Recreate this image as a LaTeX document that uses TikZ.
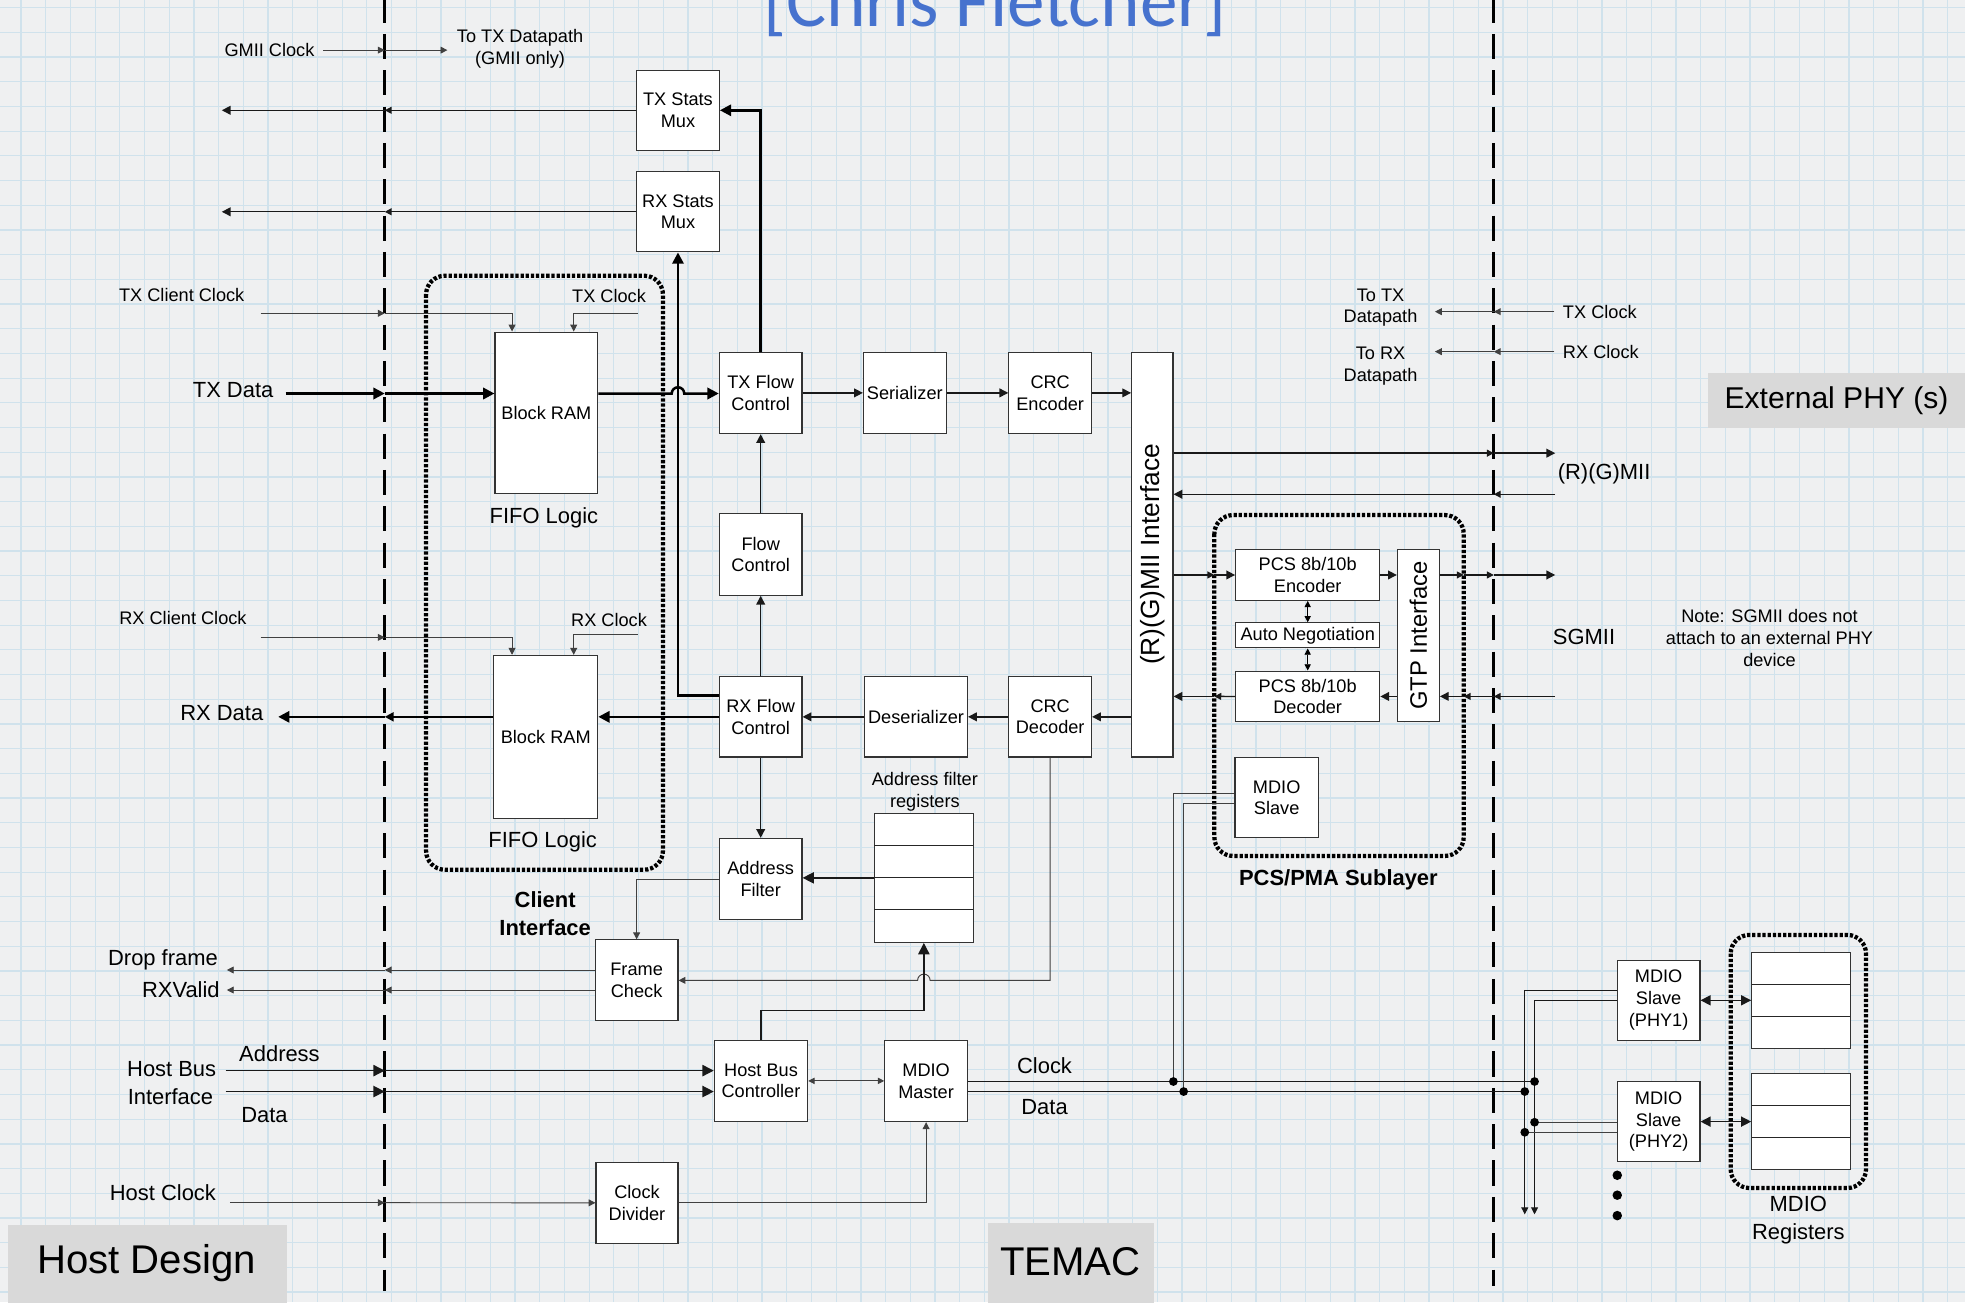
\documentclass[tikz,border=0pt]{standalone}
\usepackage{fontspec}
\setmainfont{Liberation Sans}
\newfontfamily\titlefont{Carlito}
\usetikzlibrary{arrows.meta}
\newcommand{\fsA}{\fontsize{14.5}{17.4}\selectfont}
\newcommand{\fsB}{\fontsize{17.5}{22}\selectfont}
\newcommand{\fsC}{\fontsize{32}{38}\selectfont}
\newcommand{\fsD}{\fontsize{24}{28}\selectfont}
\newcommand{\fsR}{\fontsize{21}{25}\selectfont}
\newcommand{\fsG}{\fontsize{19}{23}\selectfont}
\newcommand{\fsT}{\titlefont\fontsize{60}{72}\selectfont}
\definecolor{bgc}{RGB}{239,240,241}
\definecolor{gridc}{RGB}{208,226,236}
\definecolor{titleblue}{RGB}{70,114,206}
\definecolor{labelgray}{RGB}{217,217,217}
\begin{document}
\begin{tikzpicture}[x=1pt,y=-1pt,
 blk/.style={draw=black!80,fill=white,line width=0.9pt,inner sep=0pt,align=center,font=\fsA},
 lbl/.style={inner sep=0pt,align=center,font=\fsA},
 lblB/.style={inner sep=0pt,align=center,font=\fsB},
 thn/.style={line width=0.75pt,draw=black!75},
 med/.style={line width=1.1pt,draw=black!90},
 thk/.style={line width=2pt,draw=black},
 sar/.style={-{Triangle[length=5.5pt,width=5.5pt]}},
 ar/.style={-{Triangle[length=7pt,width=7pt]}},
 bar/.style={-{Triangle[length=9pt,width=9pt]}},
 dsar/.style={{Triangle[length=5pt,width=5pt]}-{Triangle[length=5pt,width=5pt]}},
 dbar/.style={{Triangle[length=8pt,width=8pt]}-{Triangle[length=8pt,width=8pt]}},
 bnd/.style={line width=2.6pt,dash pattern=on 20pt off 9pt},
 dotbox/.style={line width=3.4pt,dash pattern=on 2.6pt off 1.5pt,rounded corners=15pt},
 gridl/.style={line width=1pt,draw=gridc},
]
\useasboundingbox (0,0) rectangle (1568,1039);
\clip (0,0) rectangle (1568,1039);
% background and grid
\fill[bgc] (0,0) rectangle (1568,1039);
\foreach \i in {0,...,79}{\pgfmathsetmacro\gx{16.8+\i*19.71}\draw[gridl] (\gx,0) -- (\gx,1039);}
\foreach \j in {0,...,52}{\pgfmathsetmacro\gy{6.1+\j*19.71}\draw[gridl] (0,\gy) -- (1568,\gy);}

% title
\node[font=\fsT,text=titleblue,anchor=base,inner sep=0pt] (title) at (794,21.5) {[Chris Fletcher]};

% boundaries
\draw[bnd] (307,-2) -- (307,1030);
\draw[bnd] (1192,-2) -- (1192,1026);

% gray region labels
\fill[labelgray] (6.4,977.5) rectangle (229,1045);
\node[font=\fsC,inner sep=0pt] (hostd) at (117,1008) {Host Design};
\fill[labelgray] (788.4,975.6) rectangle (920.5,1045);
\node[font=\fsC,inner sep=0pt] (temac) at (854,1007) {TEMAC};
\fill[labelgray] (1363.2,297.9) rectangle (1570,341.8);
\node[font=\fsD,inner sep=0pt] (extphy) at (1465.5,319.5) {External PHY (s)};

% dotted groups
\draw[dotbox] (340,220) rectangle (529,694);
\draw[dotbox] (969,411) rectangle (1168,683);
\draw[dotbox] (1381,746) rectangle (1489,948);

% blocks
\node[blk,minimum width=66pt,minimum height=64pt] (txstats) at (541,88) {TX Stats\\Mux};
\node[blk,minimum width=66pt,minimum height=64pt] (rxstats) at (541,169) {RX Stats\\Mux};
\node[blk,minimum width=82pt,minimum height=129pt] (bramtx) at (436,329.5) {Block RAM};
\node[blk,minimum width=83pt,minimum height=130pt] (bramrx) at (435.5,588) {Block RAM};
\node[blk,minimum width=66pt,minimum height=65pt] (txflow) at (607,313.5) {TX Flow\\Control};
\node[blk,minimum width=66pt,minimum height=65pt] (ser) at (722,313.5) {Serializer};
\node[blk,minimum width=66pt,minimum height=65pt] (crcenc) at (838,313.5) {CRC\\Encoder};
\node[blk,minimum width=33pt,minimum height=323pt] (rgmii) at (919.5,442.5) {};
\node[rotate=90,font=\fsR,inner sep=0pt] (rgmiit) at (rgmii.center) {(R)(G)MII Interface};
\node[blk,minimum width=66pt,minimum height=65pt] (flowc) at (607,442.5) {Flow\\Control};
\node[blk,minimum width=66pt,minimum height=64pt] (rxflow) at (607,572) {RX Flow\\Control};
\node[blk,minimum width=82pt,minimum height=64pt] (deser) at (731,572) {Deserializer};
\node[blk,minimum width=66pt,minimum height=64pt] (crcdec) at (838,572) {CRC\\Decoder};
\node[blk,minimum width=66pt,minimum height=65pt] (addrf) at (607,701.5) {Address\\Filter};
\node[blk,minimum width=79pt,minimum height=103pt] (regs) at (737.2,700.5) {};
\draw[thn,draw=black!85] (697.7,674.8) -- (776.7,674.8) (697.7,700.3) -- (776.7,700.3) (697.7,726.1) -- (776.7,726.1);
\node[blk,minimum width=66pt,minimum height=64pt] (frame) at (508,782) {Frame\\Check};
\node[blk,minimum width=74.5pt,minimum height=65pt] (hbc) at (607.25,862.5) {Host Bus\\Controller};
\node[blk,minimum width=66pt,minimum height=65pt] (mdiom) at (739,862.5) {MDIO\\Master};
\node[blk,minimum width=65.4pt,minimum height=64.5pt] (clkdiv) at (508.3,959.8) {Clock\\Divider};
\node[blk,minimum width=115pt,minimum height=40.5pt] (pcsenc) at (1043.5,458.8) {PCS 8b/10b\\Encoder};
\node[blk,minimum width=115pt,minimum height=20pt] (autoneg) at (1043.5,507) {Auto Negotiation};
\node[blk,minimum width=115pt,minimum height=40.5pt] (pcsdec) at (1043.5,555.75) {PCS 8b/10b\\Decoder};
\node[blk,minimum width=33.5pt,minimum height=137.5pt] (gtp) at (1131.8,507.25) {};
\node[rotate=90,font=\fsG,inner sep=0pt] (gtpt) at (gtp.center) {GTP Interface};
\node[blk,minimum width=66.5pt,minimum height=64pt] (mdios) at (1018.75,636.5) {MDIO\\Slave};
\node[blk,minimum width=66pt,minimum height=64pt] (phy1) at (1323.5,798.2) {MDIO\\Slave\\(PHY1)};
\node[blk,minimum width=66pt,minimum height=64pt] (phy2) at (1323.5,895) {MDIO\\Slave\\(PHY2)};
\node[blk,minimum width=78.8pt,minimum height=77pt] (reg1) at (1437.2,798.3) {};
\draw[thn,draw=black!85] (1397.8,785.3) -- (1476.6,785.3) (1397.8,811) -- (1476.6,811);
\node[blk,minimum width=78.8pt,minimum height=77pt] (reg2) at (1437.2,895) {};
\draw[thn,draw=black!85] (1397.8,882) -- (1476.6,882) (1397.8,907.8) -- (1476.6,907.8);

% labels
\node[lbl] (lgmii) at (215,40) {GMII Clock};
\node[lbl] (ltotx) at (415,39) {To TX Datapath\\(GMII only)};
\node[lbl] (ltcc) at (145,235.5) {TX Client Clock};
\node[lbl] (ltck) at (486,236) {TX Clock};
\node[lblB] (ltxd) at (186,311) {TX Data};
\node[lblB] (lfifo1) at (434,413) {FIFO Logic};
\node[lbl] (lrcc) at (146,493.5) {RX Client Clock};
\node[lbl] (lrck) at (486,494.5) {RX Clock};
\node[lblB] (lrxd) at (177,569) {RX Data};
\node[lblB] (lfifo2) at (433,672) {FIFO Logic};
\node[lblB,font=\fsB\bfseries] (lclient) at (435,729) {Client\\Interface};
\node[lbl] (lafr) at (738,631.5) {Address filter\\registers};
\node[lblB,anchor=east] (ldrop) at (174,766) {Drop frame};
\node[lblB,anchor=east] (lrxv) at (175.5,790) {RXValid};
\node[lblB] (lhbus) at (137,853) {Host Bus};
\node[lblB] (lhint) at (136,875) {Interface};
\node[lblB] (laddr) at (223,841) {Address};
\node[lblB] (ldata) at (211,890) {Data};
\node[lblB] (lhclk) at (130,952) {Host Clock};
\node[lblB] (lclk) at (833.5,850.5) {Clock};
\node[lblB] (lmdata) at (833.5,883) {Data};
\node[lblB,font=\fsB\bfseries] (lpcs) at (1068,702) {PCS/PMA Sublayer};
\node[lbl] (ltotxr) at (1101.6,245.5) {To TX\\Datapath};
\node[lbl] (ltorx) at (1101.6,292) {To RX\\Datapath};
\node[lbl,anchor=west] (ltckr) at (1247,248.7) {TX Clock};
\node[lbl,anchor=west] (lrckr) at (1247,280.6) {RX Clock};
\node[lblB] (lrgmii) at (1280,378) {(R)(G)MII};
\node[lblB] (lsgmii) at (1264,508) {SGMII};
\node[lbl] (lnote) at (1412,509) {Note: SGMII does not\\attach to an external PHY\\device};
\node[lblB] (lmreg) at (1435,973.5) {MDIO\\Registers};

% GMII clock
\coordinate (gmL) at (258,40); \coordinate (gmB) at (307,40); \coordinate (gmR) at (357,40);
\draw[thn,sar] (gmL) -- (gmB); \draw[thn,sar] (gmB) -- (gmR);

% stats
\coordinate (tsB) at (307,88); \coordinate (tsL) at (177,88);
\draw[med,sar] (txstats.west) -- (tsB); \draw[med,ar] (tsB) -- (tsL);
\coordinate (rsB) at (307,169); \coordinate (rsL) at (177,169);
\draw[med,sar] (rxstats.west) -- (rsB); \draw[med,ar] (rsB) -- (rsL);
\draw[thk,bar] (txflow.north) |- (txstats.east);
\coordinate (rxsB) at (541,555);
\coordinate (rxsA) at (rxflow.west |- rxsB);
\draw[thk,bar] (rxsA) -- (rxsB) -- (rxstats.south);

% TX clocks
\coordinate (tccL) at (208,250); \coordinate (tccB) at (307,250);
\draw[thn,sar] (tccL) -- (tccB);
\draw[thn,sar] (tccB) -| ([xshift=-27.4pt]bramtx.north);
\coordinate (tckR) at (509,250);
\draw[thn,sar] (tckR) -| ([xshift=21.8pt]bramtx.north);

% TX data path
\coordinate (tdL) at (228,314); \coordinate (tdB) at (307,314);
\draw[thk,bar] (tdL) -- (tdB);
\draw[thk,bar] (tdB) -- (bramtx.west |- tdB);
\coordinate (hop1) at (536,314);
\draw[thk,bar] (bramtx.east |- tdB) -- (hop1) arc[start angle=180,end angle=360,radius=5] -- (txflow.west |- tdB);
\draw[med,ar] (txflow.east) -- (ser.west);
\draw[med,ar] (ser.east) -- (crcenc.west);
\draw[med,ar] (crcenc.east) -- (rgmii.west |- crcenc.east);

% RX data path
\draw[med,ar] (rgmii.west |- crcdec.east) -- (crcdec.east);
\draw[med,ar] (crcdec.west) -- (deser.east);
\draw[med,ar] (deser.west) -- (rxflow.east);
\draw[thk,bar] (rxflow.west) -- (bramrx.east |- rxflow.west);
\coordinate (rdB) at (307,572); \coordinate (rdL) at (222,572);
\draw[thk,ar] (bramrx.west |- rdB) -- (rdB); \draw[thk,bar] (rdB) -- (rdL);

% RX clocks
\coordinate (rccL) at (208,508.6); \coordinate (rccB) at (307,508.6);
\draw[thn,sar] (rccL) -- (rccB);
\draw[thn,sar] (rccB) -| ([xshift=-26.9pt]bramrx.north);
\coordinate (rckR) at (509,506);
\draw[thn,sar] (rckR) -| ([xshift=22.3pt]bramrx.north);

% flow control / address filter
\draw[med,ar] (rxflow.north) -- (flowc.south);
\draw[med,ar] (flowc.north) -- (txflow.south);
\draw[med,ar] (rxflow.south) -- (addrf.north);
\draw[med,bar] (regs.west) -- (regs.west -| addrf.east);
\draw[thn,sar] (addrf.west) -| (frame.north);
\coordinate (hopR) at (742.2,782.3);
\draw[thn,sar] (crcdec.south) |- (hopR) arc[start angle=0,end angle=-180,radius=5] -- (frame.east |- hopR);
\coordinate (hbR) at (737.2,806.5);
\draw[med,bar] (hbc.north) |- (hbR) -- (regs.south);

% frame check outputs
\coordinate (dfB) at (307,774); \coordinate (dfL) at (181,774);
\draw[thn,sar] (frame.west |- dfB) -- (dfB); \draw[thn,sar] (dfB) -- (dfL);
\coordinate (rvB) at (307,790); \coordinate (rvL) at (181,790);
\draw[thn,sar] (frame.west |- rvB) -- (rvB); \draw[thn,sar] (rvB) -- (rvL);

% host bus
\coordinate (haL) at (180,854.3); \coordinate (haB) at (307,854.3);
\draw[med,bar] (haL) -- (haB); \draw[med,bar] (haB) -- (hbc.west |- haB);
\coordinate (hdL) at (180,871); \coordinate (hdB) at (307,871);
\draw[med,bar] (hdL) -- (hdB); \draw[med,bar] (hdB) -- (hbc.west |- hdB);
\draw[thn,dsar] (hbc.east) -- (mdiom.west);

% host clock
\coordinate (hcL) at (183.5,959.7); \coordinate (hcB) at (307,959.7);
\draw[thn,sar] (hcL) -- (hcB); \draw[thn,sar] (hcB) -- (clkdiv.west);
\draw[thn,sar] (clkdiv.east) -| (mdiom.south);

% MDIO bus
\coordinate (busC) at (1224.5,863); \coordinate (busD) at (1216.7,871);
\draw[thn,draw=black!90] (mdiom.east |- busC) -- (busC);
\draw[thn,draw=black!90] (mdiom.east |- busD) -- (busD);
\coordinate (msC) at (936.3,863); \coordinate (msD) at (944.5,871);
\coordinate (ms1) at (985.5,633); \coordinate (ms2) at (985.5,641);
\draw[thn] (mdios.west |- ms1) -| (msC);
\draw[thn] (mdios.west |- ms2) -| (msD);
\coordinate (bbC) at (1224.5,969); \coordinate (bbD) at (1216.7,969);
\coordinate (p1a) at (1290,790.5); \coordinate (p1b) at (1290,798.4);
\draw[thn,draw=black!90,sar] (phy1.west |- p1a) -| (bbD);
\draw[thn,draw=black!90,sar] (phy1.west |- p1b) -| (bbC);
\coordinate (p2C) at (1224.5,895.5); \coordinate (p2D) at (1216.7,903.5);
\draw[thn] (phy2.west |- p2C) -- (p2C);
\draw[thn] (phy2.west |- p2D) -- (p2D);
\foreach \p in {msC,msD,busC,busD,p2C,p2D} \fill (\p) circle (3.5);
\draw[med,dbar] (phy1.east) -- (reg1.west |- phy1.east);
\draw[med,dbar] (phy2.east) -- (reg2.west |- phy2.east);
\fill (1290.5,937.8) circle (3.8);
\fill (1290.5,953.7) circle (3.8);
\fill (1290.5,970) circle (3.8);

% (R)(G)MII external
\coordinate (rg1B) at (1192,361.6); \coordinate (rg1R) at (1241,361.6);
\draw[med,sar] (rgmii.east |- rg1B) -- (rg1B); \draw[med,ar] (rg1B) -- (rg1R);
\coordinate (rg2B) at (1192,394.4); \coordinate (rg2R) at (1241,394.4);
\draw[med,sar] (rg2R) -- (rg2B); \draw[med,ar] (rg2B) -- (rgmii.east |- rg2B);

% SGMII path
\coordinate (seL) at (969,458.8);
\draw[med,sar] (rgmii.east |- seL) -- (seL); \draw[med,ar] (seL) -- (pcsenc.west);
\draw[med,ar] (pcsenc.east) -- (gtp.west |- pcsenc.east);
\coordinate (seP) at (1168,458.8); \coordinate (seB) at (1192,458.8); \coordinate (seR) at (1241,458.8);
\draw[med,sar] (gtp.east |- seP) -- (seP); \draw[med,sar] (seP) -- (seB); \draw[med,ar] (seB) -- (seR);
\coordinate (sdR) at (1241,555.7); \coordinate (sdB) at (1192,555.7); \coordinate (sdP) at (1168,555.7); \coordinate (sdL) at (969,555.7);
\draw[med,sar] (sdR) -- (sdB); \draw[med,sar] (sdB) -- (sdP); \draw[med,ar] (sdP) -- (gtp.east |- sdP);
\draw[med,ar] (gtp.west |- pcsdec.east) -- (pcsdec.east);
\draw[med,sar] (pcsdec.west) -- (sdL); \draw[med,ar] (sdL) -- (rgmii.east |- sdL);
\draw[thn,draw=black,dsar] (pcsenc.south) -- (autoneg.north);
\draw[thn,draw=black,dsar] (autoneg.south) -- (pcsdec.north);

% external clocks
\coordinate (tkR) at (1240.4,248.7); \coordinate (tkB) at (1192,248.7); \coordinate (tkL) at (1145,248.7);
\draw[thn,sar] (tkR) -- (tkB); \draw[thn,sar] (tkB) -- (tkL);
\coordinate (rkR) at (1240.4,280.6); \coordinate (rkB) at (1192,280.6); \coordinate (rkL) at (1145,280.6);
\draw[thn,sar] (rkR) -- (rkB); \draw[thn,sar] (rkB) -- (rkL);
\end{tikzpicture}
\end{document}
